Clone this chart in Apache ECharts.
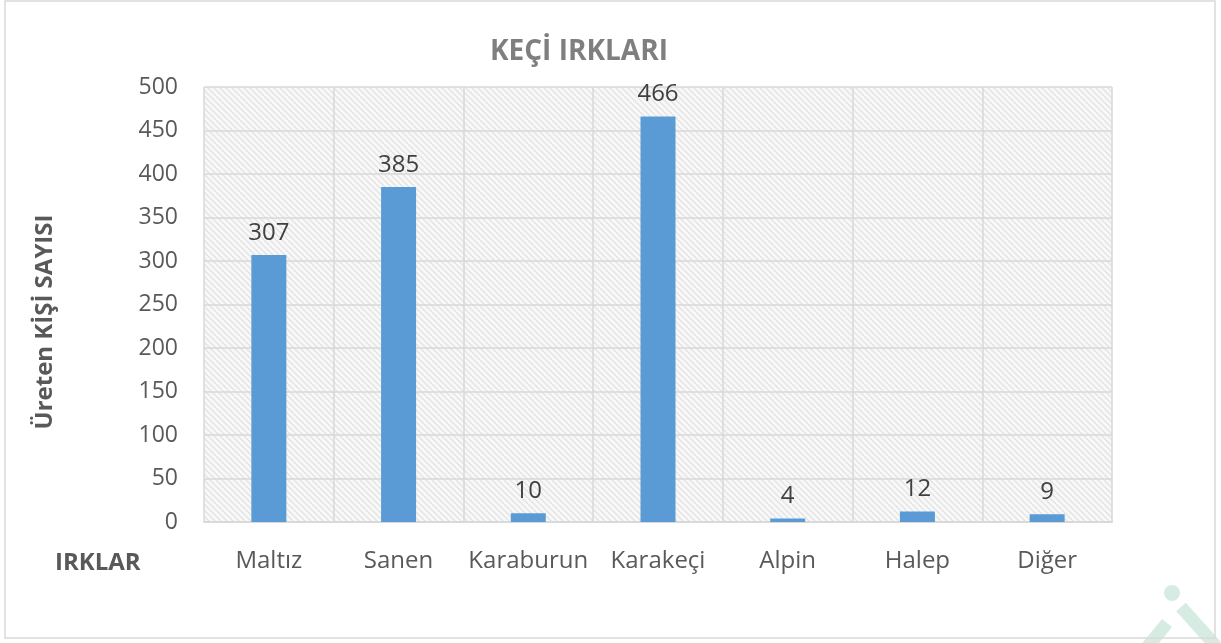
<!DOCTYPE html>
<html><head><meta charset="utf-8">
<script src="https://cdn.jsdelivr.net/npm/echarts@6/dist/echarts.min.js"></script>
<style>html,body{margin:0;padding:0;background:#fff}#c{width:1221px;height:643px}</style>
</head><body><div id="c"></div>
<script>
const categories = ['Maltız','Sanen','Karaburun','Karakeçi','Alpin','Halep','Diğer'];
const values = [307,385,10,466,4,12,9];
const titleText = 'KEÇİ IRKLARI';
const yName = 'Üreten KİŞİ SAYISI';
const xName = 'IRKLAR';

const pc = document.createElement('canvas');
pc.width = 6; pc.height = 6;
const g = pc.getContext('2d');
g.fillStyle = '#f8f8f8'; g.fillRect(0,0,6,6);
g.strokeStyle = '#e2e2e2'; g.lineWidth = 1.3;
g.beginPath();
for (let k=-6;k<=12;k+=6){ g.moveTo(k,0); g.lineTo(k+6,6); }
g.stroke();

const chart = echarts.init(document.getElementById('c'));
const font = '"Open Sans", sans-serif';
chart.setOption({
  animation:false,
  title:{text:titleText,left:485,top:33,textStyle:{fontFamily:font,fontSize:28,fontWeight:'bold',color:'#7f7f7f'}},
  graphic:[
    {type:'line',shape:{x1:1167,y1:623,x2:1145,y2:650},style:{stroke:'#d6ece3',lineWidth:13}},
    {type:'line',shape:{x1:1181,y1:607,x2:1216,y2:646},style:{stroke:'#d6ece3',lineWidth:13}},
    {type:'circle',shape:{cx:1172,cy:593,r:8},style:{fill:'#d6ece3'}},
    {type:'rect',shape:{x:5,y:1,width:1210,height:637},style:{fill:'none',stroke:'#d9d9d9',lineWidth:1.5}},
    {type:'text',left:55,top:551,style:{text:xName,font:'bold 24px "Open Sans", sans-serif',fill:'#595959'}},
    {type:'text',x:45,y:322,rotation:Math.PI/2,style:{text:yName,font:'bold 24px "Open Sans", sans-serif',fill:'#595959',align:'center',verticalAlign:'middle'}}
  ],
  grid:{left:204,right:109,top:87,bottom:121,show:true,borderWidth:0,backgroundColor:{image:pc,repeat:'repeat'}},
  xAxis:{type:'category',data:categories,
    axisLine:{lineStyle:{color:'#d9d9d9',width:2}},axisTick:{show:false},
    splitLine:{show:true,interval:0,lineStyle:{color:'#d9d9d9',width:1.5}},
    axisLabel:{interval:0,fontFamily:font,fontSize:24,color:'#595959',margin:27}},
  yAxis:{type:'value',min:0,max:500,interval:50,
    axisLine:{show:false},axisTick:{show:false},
    splitLine:{lineStyle:{color:'#d9d9d9',width:1.5}},
    axisLabel:{fontFamily:font,fontSize:23,color:'#595959',margin:26}},
  series:[{type:'bar',data:values,barWidth:35,itemStyle:{color:'#5b9bd5'},
    label:{show:true,position:'top',distance:10,fontFamily:font,fontSize:24,color:'#404040'}}]
});
</script></body></html>
